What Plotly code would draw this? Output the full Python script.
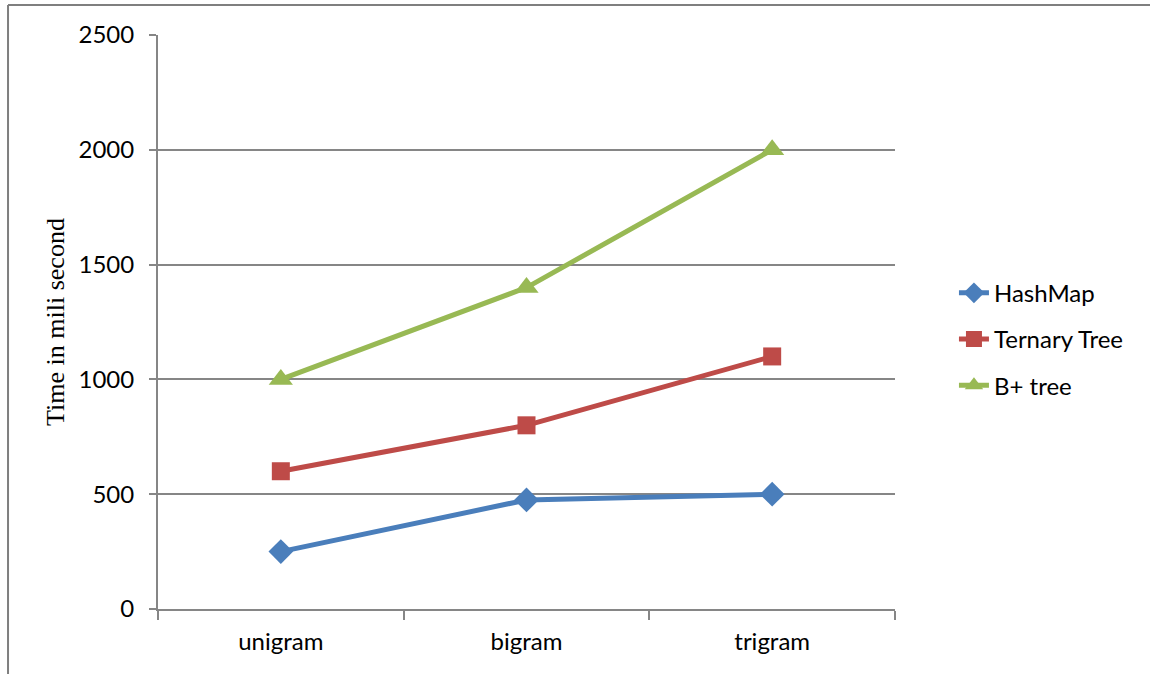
import plotly.graph_objects as go

# Lookup time for each n-gram level
categories = ["unigram", "bigram", "trigram"]
hashmap = [250, 475, 500]
ternary_tree = [600, 800, 1100]
bplus_tree = [1000, 1400, 2000]
y_ticks = [0, 500, 1000, 1500, 2000, 2500]

series = [
    ("HashMap", hashmap, "#4A7EBB", "diamond", 19),
    ("Ternary Tree", ternary_tree, "#BE4B48", "square", 18),
    ("B+ tree", bplus_tree, "#98B954", "triangle-up", 21),
]

fig = go.Figure()
for name, values, color, symbol, size in series:
    fig.add_trace(go.Scatter(
        x=categories, y=values, name=name, legendgroup=name,
        mode="lines+markers",
        line=dict(color=color, width=5),
        marker=dict(symbol=symbol, size=size, color=color),
    ))

tick_font = dict(family="Lato, Open Sans, sans-serif", size=24, color="#000000")

fig.update_layout(
    width=1150, height=674,
    margin=dict(l=158, r=255, t=35, b=65),
    paper_bgcolor="white", plot_bgcolor="white",
    showlegend=True,
    legend=dict(
        x=1.08, y=0.47, xanchor="left", yanchor="middle",
        font=tick_font, tracegroupgap=12,
        bgcolor="rgba(0,0,0,0)",
    ),
    xaxis=dict(
        type="category", tickson="boundaries",
        ticks="outside", ticklen=9, tickcolor="#868686", tickwidth=2,
        ticklabelstandoff=10,
        showline=True, linecolor="#868686", linewidth=2,
        showgrid=False, tickfont=tick_font, range=[-0.5, 2.5],
    ),
    yaxis=dict(
        range=[0, 2500], tickvals=y_ticks,
        ticks="outside", ticklen=7, tickcolor="#868686", tickwidth=2,
        ticklabelstandoff=10,
        showline=True, linecolor="#868686", linewidth=2,
        showgrid=True, gridcolor="#868686", gridwidth=1.5,
        zeroline=False, tickfont=tick_font,
        title=dict(text="Time in mili second",
                   font=dict(family="Liberation Serif, Times New Roman, serif",
                             size=26, color="#000000"),
                   standoff=6),
    ),
)

# Outer frame around the chart (left and top edges visible)
fig.add_shape(type="line", xref="paper", yref="paper",
              x0=-0.2035, x1=1.4, y0=1.0523, y1=1.0523,
              line=dict(color="#7F7F7F", width=2))
fig.add_shape(type="line", xref="paper", yref="paper",
              x0=-0.2035, x1=-0.2035, y0=-0.12, y1=1.0523,
              line=dict(color="#7F7F7F", width=2))

fig.write_html("out.html")
